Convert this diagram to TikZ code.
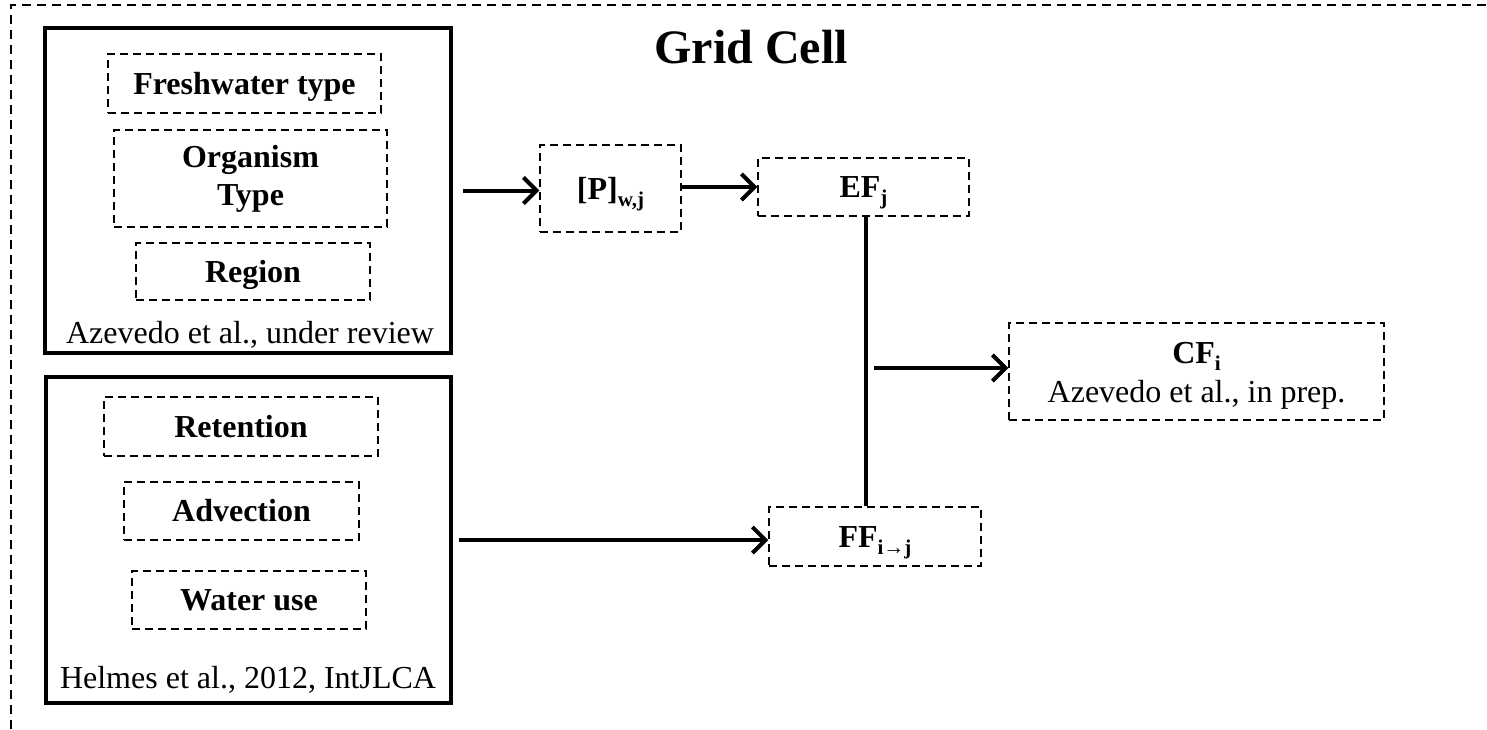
\documentclass[tikz,border=0pt]{standalone}
\usepackage{fontspec}
\setmainfont{Liberation Serif}
\usetikzlibrary{arrows.meta,positioning,calc}
\newcommand{\sbs}[1]{\raisebox{-0.22em}{\fontsize{21}{21}\selectfont #1}}
\tikzset{
  dbox/.style={draw, line width=1.5pt, dash pattern=on 8pt off 5pt, inner sep=0pt},
  capc/.style={text height=21pt, text depth=0pt},
  sbox/.style={draw, line width=3.5pt, inner sep=0pt},
  btxt/.style={font=\fontsize{32}{38}\selectfont\bfseries, align=center},
  rtxt/.style={font=\fontsize{32}{40}\selectfont, align=center},
  conn/.style={line width=4pt, -{Straight Barb[length=13pt,width=26pt,line width=4pt]}},
  plainconn/.style={line width=4pt},
}
\begin{document}
\begin{tikzpicture}[x=1pt,y=-1pt]
\useasboundingbox (0,0) rectangle (1487,729);
% outer cropped dashed frame
\coordinate (fbl) at (11,729);
\coordinate (ftl) at (11,5);
\coordinate (ftr) at (1487,5);
\draw[line width=1.5pt, dash pattern=on 9pt off 6pt] (fbl) -- (ftl) -- (ftr);
% title
\node[font=\fontsize{48}{52}\selectfont\bfseries] (title) at (751,47) {Grid Cell};
% group A
\node[sbox, minimum width=406pt, minimum height=325pt] (A) at (248,190.5) {};
\node[dbox, btxt, capc, minimum width=273pt, minimum height=59pt] (fw) at (244.5,83.5) {Freshwater type};
\node[dbox, btxt, minimum width=273pt, minimum height=97pt] (org) at (250.5,178.5) {Organism\\Type};
\node[dbox, btxt, capc, minimum width=234pt, minimum height=57pt] (reg) at (253,271.5) {Region};
\node[rtxt, anchor=base] (azrev) at (250,343) {Azevedo et al., under review};
% group B
\node[sbox, minimum width=405pt, minimum height=326pt] (B) at (248.5,540) {};
\node[dbox, btxt, capc, minimum width=274pt, minimum height=59pt] (ret) at (241,426.5) {Retention};
\node[dbox, btxt, capc, minimum width=235pt, minimum height=58pt] (adv) at (241.5,511) {Advection};
\node[dbox, btxt, capc, minimum width=234pt, minimum height=58pt] (wu) at (249,600) {Water use};
\node[rtxt, anchor=base] (helm) at (248,688) {Helmes et al., 2012, IntJLCA};
% right side
\node[dbox, btxt, capc, minimum width=141pt, minimum height=87pt] (P) at (610.5,188.5) {[P]\sbs{w,j}};
\node[dbox, btxt, capc, minimum width=211pt, minimum height=58pt] (EF) at (863.5,187) {EF\sbs{j}};
\node[dbox, btxt, capc, minimum width=212pt, minimum height=59pt] (FF) at (875,536.5) {FF\sbs{i→j}};
\node[dbox, minimum width=375pt, minimum height=97pt] (CF) at (1196.5,371.5) {};
\node[btxt, anchor=base] (cft) at (1196.5,363) {CF\sbs{i}};
\node[rtxt, anchor=base] (cfs) at (1196.5,402) {Azevedo et al., in prep.};
% connectors
\draw[conn, shorten <=10pt] (A.east) -- (A.east -| P.west);
\draw[conn] (P.east |- EF.west) -- (EF.west);
\coordinate (vx) at (866,368);
\draw[plainconn] (EF.south -| vx) -- (FF.north -| vx);
\coordinate (jn) at (874,368);
\draw[conn] (jn) -- (jn -| CF.west);
\draw[conn, shorten <=6pt] (B.east) -- (B.east -| FF.west);
\end{tikzpicture}
\end{document}
